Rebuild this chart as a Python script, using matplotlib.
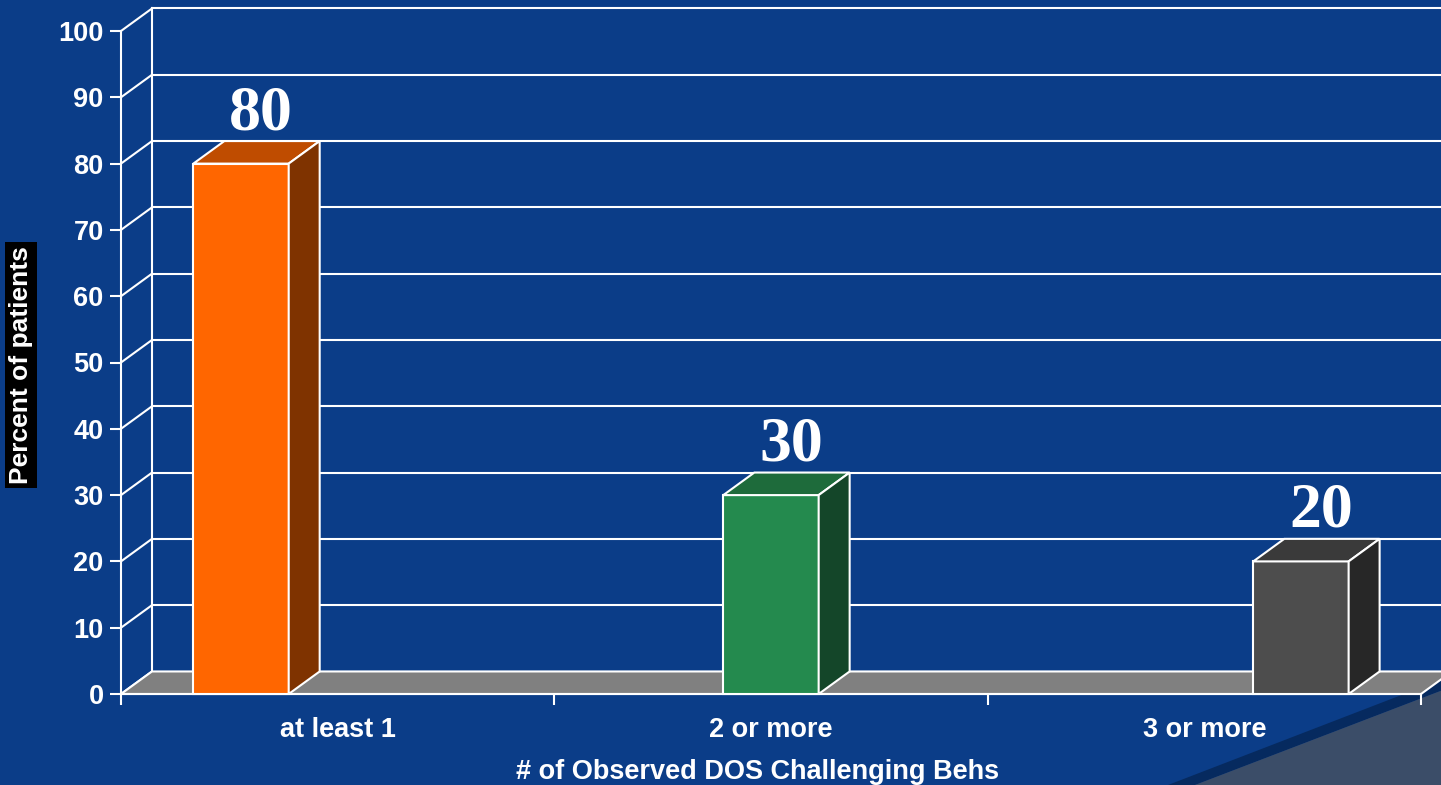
import matplotlib.pyplot as plt
from matplotlib.patches import Polygon, Rectangle

# chart data
categories = ['at least 1', '2 or more', '3 or more']
values = [80, 30, 20]
y_ticks = list(range(0, 101, 10))
front_colors = ['#FF6600', '#248A4E', '#4D4D4D']
top_colors = ['#BF4C00', '#1E6B3B', '#3A3A3A']
side_colors = ['#7F3300', '#144629', '#272727']

BG = '#0B3D88'
W, H = 1441, 785
plt.rcParams['font.family'] = ['Liberation Sans', 'DejaVu Sans']
plt.rcParams['font.weight'] = 'bold'

fig = plt.figure(figsize=(W / 100, H / 100), dpi=100, facecolor=BG)
ax = fig.add_axes([121 / W, 91 / H, 1300 / W, 663 / H])
ax.set_xlim(0, 3)
ax.set_ylim(0, 100)
ax.set_facecolor('none')

# pseudo 3d depth (data units)
dx, dy = 0.0715, 3.4
lw = 1.5

# back wall grid + side diagonals
for v in y_ticks:
    ax.plot([0, dx], [v, v + dy], color='white', lw=lw, clip_on=False, zorder=1)
    if v > 0:
        ax.plot([dx, 3.3], [v + dy, v + dy], color='white', lw=lw, clip_on=False, zorder=1)
ax.plot([dx, dx], [dy, 100 + dy], color='white', lw=lw, clip_on=False, zorder=1)

# floor
ax.add_patch(Polygon([(0, 0), (3, 0), (3 + dx, dy), (dx, dy)], closed=True,
                     fc='#808080', ec='white', lw=lw, clip_on=False, zorder=2))

# bars (one series per category, clustered layout)
bw, gap = 0.22, 0.223
for i, v in enumerate(values):
    xc = i + 0.5 + (i - 1) * gap
    x0, x1 = xc - bw / 2, xc + bw / 2
    ax.add_patch(Rectangle((x0, 0), bw, v, fc=front_colors[i], ec='white', lw=lw,
                           clip_on=False, zorder=4))
    ax.add_patch(Polygon([(x0, v), (x1, v), (x1 + dx, v + dy), (x0 + dx, v + dy)],
                         closed=True, fc=top_colors[i], ec='white', lw=lw,
                         clip_on=False, zorder=4))
    ax.add_patch(Polygon([(x1, 0), (x1 + dx, dy), (x1 + dx, v + dy), (x1, v)],
                         closed=True, fc=side_colors[i], ec='white', lw=lw,
                         clip_on=False, zorder=4))
    ax.text(xc + dx / 2 + 0.01, v + dy + 1.8, str(v), ha='center', va='baseline',
            fontsize=46, color='white', family='Liberation Serif', weight='bold',
            zorder=5)

# axes / ticks
for s in ['top', 'right']:
    ax.spines[s].set_visible(False)
for s in ['left', 'bottom']:
    ax.spines[s].set_color('white')
    ax.spines[s].set_linewidth(lw)
    ax.spines[s].set_zorder(3)

ax.set_yticks(y_ticks)
ax.tick_params(axis='y', colors='white', length=8, width=lw, pad=4.5, labelsize=19.5)
ax.set_xticks([0, 1, 2, 3])
ax.set_xticklabels([])
ax.set_xticks([0.5, 1.5, 2.5], minor=True)
ax.set_xticklabels(categories, minor=True)
ax.tick_params(axis='x', which='major', colors='white', length=8, width=lw)
ax.tick_params(axis='x', which='minor', colors='white', length=0, pad=16.5, labelsize=19.5)

fig.text(21 / W, 1 - 365 / H, 'Percent of patients', rotation=90, ha='center',
         va='center', color='white', fontsize=19,
         bbox=dict(fc='black', ec='none', pad=2.8))
fig.text(758 / W, 1 - 779 / H, '# of Observed DOS Challenging Behs', ha='center',
         va='baseline', color='white', fontsize=19.5)

# slide decoration, bottom right corner
fig.patches.append(Polygon([(1168 / W, 0), (1 + 2 / W, 1 - 679 / H), (1 + 2 / W, 1 - 690 / H),
                            (1195 / W, 0)], closed=True, fc='#062A5F', ec='none',
                           transform=fig.transFigure, zorder=-1))
fig.patches.append(Polygon([(1195 / W, 0), (1 + 2 / W, 1 - 690 / H), (1 + 2 / W, 0)],
                           closed=True, fc='#3B4D68', ec='none',
                           transform=fig.transFigure, zorder=-1))

fig.savefig('out.png', dpi=100, facecolor=BG)
